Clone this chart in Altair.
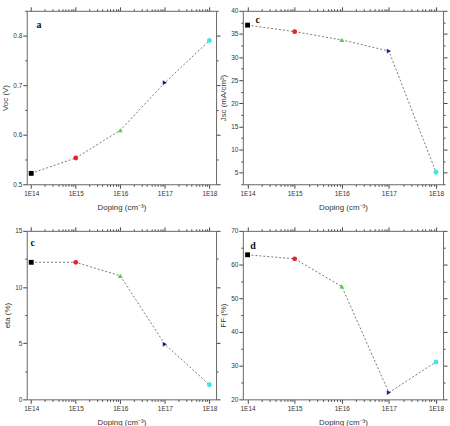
import math
import altair as alt
import pandas as pd

# Doping levels (cm^-3) and the four solar-cell figures of merit
doping = [1e14, 1e15, 1e16, 1e17, 1e18]
voc = [0.522, 0.553, 0.609, 0.705, 0.790]
jsc = [36.9, 35.5, 33.7, 31.3, 5.1]
eta = [12.2, 12.2, 11.0, 4.9, 1.3]
ff = [62.9, 61.7, 53.5, 22.0, 31.1]

marker_colors = ["#000000", "#e8202a", "#3ddc3d", "#1a1aa8", "#3fe6e6"]
marker_shapes = ["square", "circle", "triangle-up", "triangle-right", "circle"]

# x range of every panel (decades)
X_LO, X_HI = 10 ** 13.9, 10 ** 18.15
x_ticks = [k * 10 ** n for n in range(14, 18) for k in range(1, 10)] + [1e18]
x_ticks = [v for v in x_ticks if X_LO <= v <= X_HI]

FONT = "Liberation Sans"
IS_DECADE = "abs(log(datum.value)/LN10 - round(log(datum.value)/LN10)) < 1e-6"


def x_axis(orient, labels):
    return alt.Axis(
        orient=orient,
        values=x_ticks,
        labels=labels,
        labelExpr=f"{IS_DECADE} ? '1E' + round(log(datum.value)/LN10) : ''",
        labelOverlap=False,
        labelFontSize=6.5,
        labelPadding=2,
        tickSize={"condition": {"test": IS_DECADE, "value": 4}, "value": 2},
        title="Doping (cm⁻³)" if labels else None,
        titleFontSize=8,
        titlePadding=7,
    )


def y_axis(orient, labels, values, step, fmt, title):
    major = f"abs(datum.value/{step} - round(datum.value/{step})) < 1e-6"
    return alt.Axis(
        orient=orient,
        values=values,
        labels=labels,
        labelExpr=f"{major} ? format(datum.value, '{fmt}') : ''",
        labelOverlap=False,
        labelFontSize=6.5,
        labelPadding=1,
        tickSize={"condition": {"test": major, "value": 4}, "value": 2},
        title=title if labels else None,
        titleFontSize=8,
        titlePadding=3,
    )


def panel(values, title, domain, ticks, step, fmt, letter, letter_xy, w, h):
    df = pd.DataFrame({"doping": doping, "value": values,
                       "name": [f"1E{int(round(math.log10(d)))}" for d in doping]})
    xs = alt.Scale(type="log", domain=[X_LO, X_HI], nice=False)
    ys = alt.Scale(domain=domain, nice=False, zero=False)

    line = alt.Chart(df).mark_line(
        color="#555555", strokeWidth=0.8, strokeDash=[2, 2]
    ).encode(
        x=alt.X("doping:Q", scale=xs, axis=x_axis("bottom", True)),
        y=alt.Y("value:Q", scale=ys, axis=y_axis("left", True, ticks, step, fmt, title)),
    )
    pts = alt.Chart(df).mark_point(filled=True, size=24, opacity=1).encode(
        x=alt.X("doping:Q", scale=xs, axis=x_axis("top", False)),
        y=alt.Y("value:Q", scale=ys, axis=y_axis("right", False, ticks, step, fmt, title)),
        color=alt.Color("name:N", scale=alt.Scale(domain=df["name"].tolist(),
                                                  range=marker_colors), legend=None),
        shape=alt.Shape("name:N", scale=alt.Scale(domain=df["name"].tolist(),
                                                  range=marker_shapes), legend=None),
    )
    lab = alt.Chart(pd.DataFrame({"x": [letter_xy[0]], "y": [letter_xy[1]],
                                  "t": [letter]})).mark_text(
        font="Liberation Serif", fontWeight="bold", fontSize=10, color="#111111"
    ).encode(
        x=alt.X("x:Q", scale=xs, axis=None),
        y=alt.Y("y:Q", scale=ys, axis=None),
        text="t:N",
    )
    return alt.layer(line, pts, lab).properties(width=w, height=h)


def steps(lo, hi, d):
    n = int(round((hi - lo) / d))
    return [round(lo + i * d, 6) for i in range(n + 1)]


pa = panel(voc, "Voc (V)", [0.5, 0.85], steps(0.5, 0.85, 0.05), 0.1, ".1f",
           "a", (1.5e14, 0.822), 191, 175)
pb = panel(jsc, "Jsc (mA/cm²)", [2.5, 40], steps(2.5, 40, 2.5), 5, "d",
           "c", (1.65e14, 37.9), 202, 175)
pc = panel(eta, "eta (%)", [0, 15], steps(0, 15, 2.5), 5, "d",
           "c", (1.08e14, 13.9), 191, 170)
pd_ = panel(ff, "FF (%)", [20, 70], steps(20, 70, 5), 10, "d",
            "d", (1.3e14, 65.6), 202, 170)

chart = alt.concat(
    pa, pb, pc, pd_, columns=2, spacing={"row": 47, "column": 27}, bounds="flush"
).properties(
    padding={"left": 1, "top": 4, "right": 2, "bottom": 0},
    background="white",
).configure_view(
    stroke=None
).configure_axis(
    labelFont=FONT, titleFont=FONT, titleFontWeight="normal",
    labelColor="#333333", titleColor="#333333",
    domainColor="#666666", tickColor="#444444", grid=False,
)

chart.save("out.html", embed_options={"renderer": "svg", "actions": False})
